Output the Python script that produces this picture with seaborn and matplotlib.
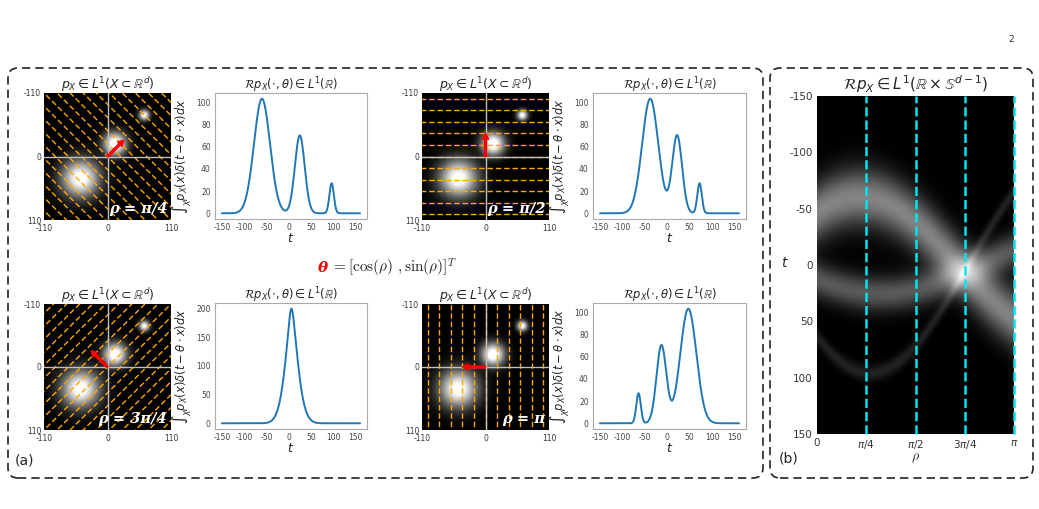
"""
Radon transform illustration: 2D density, its projections and its sinogram.
"""

import numpy as np
import pandas as pd
import matplotlib
matplotlib.use("Agg")
import matplotlib.pyplot as plt
from matplotlib.colors import PowerNorm
from matplotlib.patches import FancyBboxPatch
import seaborn as sns

# blobs of the density p_X, in the image axis coordinates (y axis points down)
blob_x = [-47, 13, 64]
blob_y = [38, -22, -72]
blob_peak = [103, 70, 27]      # peak height of each blob's projection
blob_sigma = [18, 11, 5]

# projection angles shown in panel (a)
rho_values = [np.pi / 4, np.pi / 2, 3 * np.pi / 4, np.pi]
rho_names = ["ρ = π/4", "ρ = π/2", "ρ = 3π/4", "ρ = π"]
line_spacing = [16, 20, 16, 20]
rho_ticklabels = ["0", r"$\pi/4$", r"$\pi/2$", r"$3\pi/4$", r"$\pi$"]
t_ticks = [-150, -100, -50, 0, 50, 100, 150]

W, H = 1039, 509
sns.set_theme(style="white")
plt.rcParams["axes.edgecolor"] = "#aaaaaa"
plt.rcParams["axes.linewidth"] = 0.8
plt.rcParams["axes.unicode_minus"] = False

fig = plt.figure(figsize=(W / 100, H / 100), dpi=100)


def add_ax(x0, y0, x1, y1):
    return fig.add_axes([x0 / W, 1 - y1 / H, (x1 - x0) / W, (y1 - y0) / H])


def projection(t, rho):
    out = np.zeros_like(t, dtype=float)
    for x, y, h, s in zip(blob_x, blob_y, blob_peak, blob_sigma):
        mu = x * np.cos(rho) - y * np.sin(rho)
        out += h * np.exp(-((t - mu) ** 2) / (2 * s**2))
    return out


def density(xx, yy):
    out = np.zeros_like(xx)
    for x, y, h, s in zip(blob_x, blob_y, blob_peak, blob_sigma):
        r2 = (xx - x) ** 2 + (yy - y) ** 2
        out += h / (s * np.sqrt(2 * np.pi)) * np.exp(-r2 / (2 * s**2))
    return out


grid = np.linspace(-110, 110, 300)
xx, yy = np.meshgrid(grid, grid)
img = density(xx, yy)

# pixel boxes: (image axes, line axes)
boxes = [
    ((44, 93, 171, 220), (215, 93, 367, 219)),
    ((422, 93, 549, 220), (593, 93, 746, 219)),
    ((44, 304, 171, 430), (215, 303, 367, 429)),
    ((422, 304, 549, 430), (593, 303, 746, 429)),
]

t = np.linspace(-150, 160, 600)
for rho, name, step, (ib, lb) in zip(rho_values, rho_names, line_spacing, boxes):
    ax = add_ax(*ib)
    ax.imshow(img, cmap="gray", extent=[-110, 110, 110, -110],
              norm=PowerNorm(0.6, vmin=0, vmax=img.max() * 0.8),
              aspect="auto", interpolation="bilinear")
    c, s = np.cos(rho), -np.sin(rho)
    for k in range(-10, 11):
        off = k * step
        px = off * c + np.array([-300, 300]) * (-s)
        py = off * s + np.array([-300, 300]) * c
        ax.plot(px, py, color="#ffa500", ls=(0, (4, 2)), lw=1.0, zorder=2)
    ax.axhline(0, color="#c0c0c0", lw=1, zorder=3)
    ax.axvline(0, color="#c0c0c0", lw=1, zorder=3)
    ax.arrow(0, 0, 40 * c, 40 * s, width=3.5, head_width=11, head_length=10,
             length_includes_head=True, color="red", zorder=4)
    ax.set_xlim(-110, 110)
    ax.set_ylim(110, -110)
    ax.set_xticks([-110, 0, 110])
    ax.set_yticks([-110, 0, 110])
    ax.tick_params(labelsize=5.5, pad=2, length=0, labelcolor="#333333")
    ax.tick_params(axis="x", pad=3)
    for sp in ax.spines.values():
        sp.set_visible(False)
    ax.set_title(r"$p_X \in L^1(X \subset \mathbb{R}^d)$", fontsize=9, pad=3)
    ax.text(0.97, 0.03, name, transform=ax.transAxes, ha="right", va="bottom",
            color="white", fontsize=10.5, fontweight="bold", fontstyle="italic",
            family="DejaVu Serif")

    lax = add_ax(*lb)
    df = pd.DataFrame({"t": t, "p": projection(t, rho)})
    sns.lineplot(data=df, x="t", y="p", ax=lax, color="#1f77b4", lw=1.4)
    lax.set_xticks(t_ticks)
    lax.tick_params(labelsize=5.5, pad=1, length=2, color="#aaaaaa",
                    labelcolor="#444444")
    lax.set_xlabel(r"$t$", fontsize=9, labelpad=0)
    lax.set_ylabel(r"$\int_X p_X(x)\delta(t - \theta\cdot x)dx$", fontsize=8.3, labelpad=2)
    lax.set_title(r"$\mathcal{R}p_X(\cdot,\theta) \in L^1(\mathbb{R})$", fontsize=8.3, pad=3)

# panel (b): sinogram
rho_grid = np.linspace(0, np.pi, 300)
t_grid = np.linspace(-150, 150, 400)
sino = np.column_stack([projection(t_grid, r) for r in rho_grid])
bax = add_ax(817, 96, 1014, 434)
bax.imshow(sino, cmap="gray", extent=[0, np.pi, 150, -150], aspect="auto",
           vmin=0, vmax=sino.max(), interpolation="bilinear")
for rho in rho_values:
    bax.axvline(rho, color="#00e5ee", ls="--", lw=1.8, clip_on=False)
bax.set_xlim(0, np.pi)
bax.set_ylim(150, -150)
bax.set_xticks([0] + rho_values)
bax.set_xticklabels(rho_ticklabels)
bax.set_yticks(t_ticks)
bax.tick_params(labelsize=7.5, pad=1, length=2, color="#aaaaaa", labelcolor="#333333")
for sp in bax.spines.values():
    sp.set_visible(False)
bax.set_title(r"$\mathcal{R}p_X \in L^1(\mathbb{R}\times\mathbb{S}^{d-1})$", fontsize=11, pad=4)
bax.set_xlabel(r"$\rho$", fontsize=10, labelpad=0, math_fontfamily="cm")
fig.text(785 / W, 1 - 263 / H, r"$t$", fontsize=10, ha="center", va="center")

# dashed frames, drawn in inch coordinates so the corners stay round
for x0, x1 in [(8, 763), (770, 1033)]:
    fig.patches.append(FancyBboxPatch(
        (x0 / 100 + 0.1, (H - 478) / 100 + 0.1), (x1 - x0) / 100 - 0.2, (478 - 68) / 100 - 0.2,
        boxstyle="round,pad=0.1", transform=fig.dpi_scale_trans, fill=False,
        ec="#222222", lw=1.2, ls=(0, (5, 3))))

fig.text(15 / W, 1 - 461 / H, "(a)", fontsize=10, va="center")
fig.text(779 / W, 1 - 459 / H, "(b)", fontsize=10, va="center")
fig.text(1008 / W, 1 - 40 / H, "2", fontsize=6.5, va="center", color="#333333")

fig.text(328 / W, 1 - 268 / H, "θ", color="red", fontsize=11, fontweight="bold",
         fontstyle="italic", family="DejaVu Serif", ha="right", va="center")
fig.text(331 / W, 1 - 268 / H, r"$= [\cos(\rho)\ ,\sin(\rho)]^T$", fontsize=11,
         math_fontfamily="cm", ha="left", va="center")

fig.savefig("out.png", dpi=100)
